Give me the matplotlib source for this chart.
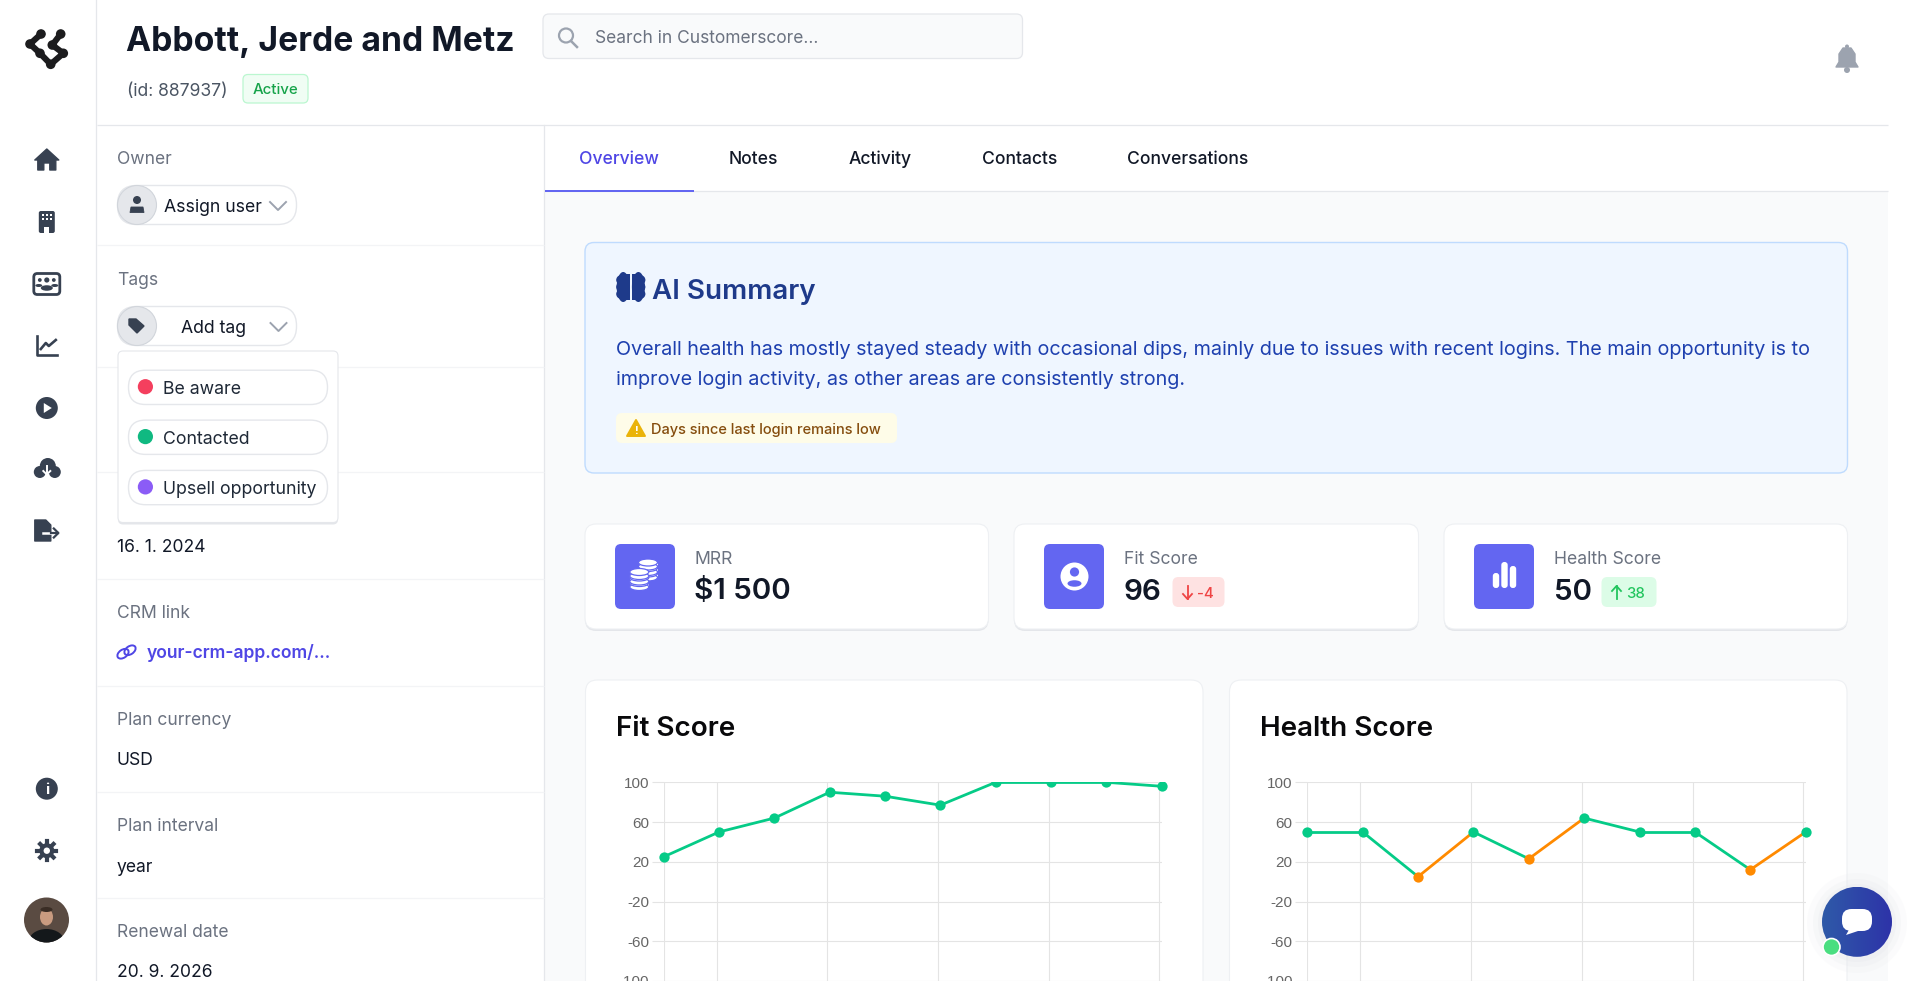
import numpy as np
import matplotlib
matplotlib.use('Agg')
import matplotlib.pyplot as plt
from matplotlib.patches import Circle, Ellipse, FancyBboxPatch, Polygon, Rectangle

W, H = 1911, 981

# chart data
fit_score = [25, 50, 64, 90, 86, 77, 100, 100, 100, 96]
health_score = [50, 50, 5, 50, 23, 64, 50, 50, 12, 50]
low_limit = 25
y_ticks = [100, 60, 20, -20, -60, -100]
month_ticks = [0, 0.955, 2.96, 4.96, 6.96, 8.96]

nav_top = ['home', 'building', 'users', 'chart', 'play', 'cloud', 'export']
tabs = ['Overview', 'Notes', 'Activity', 'Contacts', 'Conversations']
tag_names = ['Be aware', 'Contacted', 'Upsell opportunity']
tag_colors = ['#f43f5e', '#10b981', '#8b5cf6']
stat_labels = ['MRR', 'Fit Score', 'Health Score']
stat_values = ['$1 500', '96', '50']

GREEN = '#05cb87'
ORANGE = '#ff8a00'
INDIGO = '#6366f1'
ICON = '#374151'
LINE = '#e5e7eb'

plt.rcParams['font.family'] = ['Inter', 'DejaVu Sans']
plt.rcParams['axes.unicode_minus'] = False

fig = plt.figure(figsize=(W / 100, H / 100), dpi=100, facecolor='white')


def px_axes(z):
    a = fig.add_axes([0, 0, 1, 1], zorder=z)
    a.set_xlim(0, W)
    a.set_ylim(H, 0)
    a.axis('off')
    return a


ax = px_axes(0)
top = px_axes(3)


def box(x0, y0, x1, y1, r, fc, ec='none', lw=1, target=None, z=2):
    p = FancyBboxPatch((x0 + r, y0 + r), x1 - x0 - 2 * r, y1 - y0 - 2 * r,
                       boxstyle=f'round,pad={r},rounding_size={r}',
                       fc=fc, ec=ec, lw=lw, zorder=z)
    (target or ax).add_patch(p)


def card(x0, y0, x1, y1, r=12, target=None, z=2, ec='#eef0f3'):
    # soft shadow first, then the white face
    box(x0, y0 + 2, x1, y1 + 2, r, '#e4e6ea', target=target, z=z)
    box(x0, y0, x1, y1, r, 'white', ec=ec, lw=0.8, target=target, z=z + 0.1)


def txt(x, y, s, size, color='#111827', weight='normal', ha='left', z=5):
    return ax.text(x, y, s, fontsize=size * 0.72, color=color, weight=weight,
                   ha=ha, va='center_baseline', zorder=z)


def hline(y, x0, x1, c=LINE, lw=0.9):
    ax.plot([x0, x1], [y, y], color=c, lw=lw, zorder=1.5, solid_capstyle='butt')


def chevron(x, y):
    ax.plot([x - 8, x, x + 8], [y - 4, y + 4, y - 4], color='#9ca3af', lw=1.4, zorder=5)


def coin_stack(cx, y0, n):
    # n discs stacked downward from y0
    for k in range(n - 1, -1, -1):
        cy = y0 + k * 5.5
        ax.add_patch(Rectangle((cx - 9.5, cy), 19, 4, fc='white', zorder=5))
        ax.add_patch(Ellipse((cx, cy + 4), 19, 7, fc='white', ec=INDIGO, lw=0.9, zorder=5))
        ax.add_patch(Ellipse((cx, cy), 19, 7, fc='white', ec=INDIGO, lw=0.9, zorder=5))


def nav_icon(name, cx, cy):
    c = ICON
    if name == 'home':
        ax.add_patch(Polygon([(cx - 12, cy), (cx, cy - 11), (cx + 12, cy), (cx + 9, cy), (cx + 9, cy + 10),
                              (cx + 3, cy + 10), (cx + 3, cy + 3), (cx - 3, cy + 3), (cx - 3, cy + 10),
                              (cx - 9, cy + 10), (cx - 9, cy)], fc=c, ec=c, lw=1, joinstyle='round', zorder=5))
    elif name == 'building':
        box(cx - 8, cy - 11, cx + 8, cy + 11, 2, c, z=5)
        for i in (-4, 0, 4):
            for j in (-7, -3):
                ax.add_patch(Rectangle((cx + i - 1, cy + j - 1), 2, 2, fc='white', zorder=6))
        ax.add_patch(Rectangle((cx - 2.5, cy + 5), 5, 6, fc='white', zorder=6))
    elif name == 'users':
        box(cx - 13, cy - 10.5, cx + 13, cy + 10.5, 3.5, 'white', ec=c, lw=2, z=5)
        for dx, r in ((-7, 1.9), (0, 2.6), (7, 1.9)):
            ax.add_patch(Circle((cx + dx, cy - 4), r, fc=c, zorder=6))
        ax.add_patch(Ellipse((cx, cy + 4), 12, 5.5, fc=c, zorder=7))
        ax.add_patch(Ellipse((cx - 8, cy + 1.5), 7, 3, fc=c, zorder=6))
        ax.add_patch(Ellipse((cx + 8, cy + 1.5), 7, 3, fc=c, zorder=6))
    elif name == 'chart':
        ax.plot([cx - 10, cx - 10, cx + 10], [cy - 10, cy + 9, cy + 9], color=c, lw=1.9, zorder=5)
        ax.plot([cx - 6, cx - 1, cx + 2, cx + 9], [cy + 3, cy - 3, cy, cy - 6], color=c, lw=1.9, zorder=5)
    elif name == 'play':
        ax.add_patch(Circle((cx, cy), 11, fc=c, zorder=5))
        ax.add_patch(Polygon([(cx - 3, cy - 5), (cx + 5, cy), (cx - 3, cy + 5)], fc='white', zorder=6))
    elif name == 'cloud':
        for dx, dy, r in ((-7, 3, 6), (1, -3, 8), (8, 3, 6)):
            ax.add_patch(Circle((cx + dx, cy + dy), r, fc=c, zorder=5))
        ax.plot([cx, cx], [cy - 3, cy + 5], color='white', lw=1.4, zorder=6)
        ax.plot([cx - 3.5, cx, cx + 3.5], [cy + 2, cy + 5.5, cy + 2], color='white', lw=1.4, zorder=6)
    elif name == 'export':
        ax.add_patch(Polygon([(cx - 12, cy - 10), (cx - 1, cy - 10), (cx + 4, cy - 5), (cx + 4, cy + 11), (cx - 12, cy + 11)],
                             fc=c, ec=c, lw=1, joinstyle='round', zorder=5))
        ax.plot([cx - 4, cx + 5], [cy + 3, cy + 3], color='white', lw=1.8, zorder=6)
        ax.plot([cx + 4, cx + 11], [cy + 3, cy + 3], color=c, lw=1.6, zorder=7)
        ax.plot([cx + 7, cx + 11.5, cx + 7], [cy - 1.5, cy + 3, cy + 7.5], color=c, lw=1.6, zorder=7)


# page regions
ax.add_patch(Rectangle((545, 192), 1888 - 545, H - 192, fc='#f9fafb', zorder=1))
ax.plot([96, 96], [0, H], color=LINE, lw=0.9, zorder=1.5)
ax.plot([544, 544], [125, H], color=LINE, lw=0.9, zorder=1.5)
hline(124.5, 97, 1888)
hline(191, 545, 1888)
ax.add_patch(Rectangle((545, 190), 149, 2, fc=INDIGO, zorder=3))

# logo
logo = [(41, 34), (30, 44), (40, 53.3), (50.7, 64.3), (63.3, 53.3), (52.3, 45), (60.7, 34)]
xs, ys = zip(*logo)
ax.plot(xs, ys, color='#1c1c1e', lw=4.4, zorder=5, solid_joinstyle='round')
for p in logo:
    ax.add_patch(Circle(p, 4.8, fc='#1c1c1e', zorder=5))

# sidebar
for name, cy in zip(nav_top, [160, 222, 284, 346, 408, 469, 530]):
    nav_icon(name, 46.8, cy)
ax.add_patch(Circle((46.8, 788.7), 11, fc=ICON, zorder=5))
txt(46.8, 789, 'i', 15, 'white', 'bold', ha='center', z=6)
for ang in np.arange(0, 360, 45):
    a = np.radians(ang)
    ax.plot([46.8, 46.8 + 9.5 * np.cos(a)], [850.7, 850.7 + 9.5 * np.sin(a)], color=ICON, lw=3, zorder=5)
ax.add_patch(Circle((46.8, 850.7), 7.5, fc=ICON, zorder=5))
ax.add_patch(Circle((46.8, 850.7), 3.2, fc='white', zorder=6))
# avatar
av = Circle((46.5, 920), 22.5, fc='#5a4b42', zorder=5)
ax.add_patch(av)
shirt = Ellipse((46.5, 942), 36, 26, fc='#14181b', zorder=6)
ax.add_patch(shirt)
shirt.set_clip_path(av)
ax.add_patch(Ellipse((46.5, 917), 13, 17, fc='#c99b80', zorder=7))
ax.add_patch(Ellipse((46.5, 909.5), 12, 5, fc='#3a2d25', zorder=8))

# header
txt(126.5, 38, 'Abbott, Jerde and Metz', 33.7, '#111827', 'bold')
txt(127, 89.5, '(id: 887937)', 17.5, '#4b5563')
box(243, 74.5, 308, 103, 5, '#f0fdf4', ec='#bbf7d0', lw=0.9)
txt(275.5, 89, 'Active', 15, '#16a34a', 'medium', ha='center')
box(543, 14, 1022.5, 58.5, 6, '#f9fafb', ec=LINE, lw=0.9)
ax.add_patch(Circle((566, 35.5), 7, fc='none', ec='#9ca3af', lw=1.6, zorder=5))
ax.plot([571, 577], [41, 47], color='#9ca3af', lw=1.8, zorder=5)
txt(594.8, 36.7, 'Search in Customerscore...', 17.4, '#6b7280')
# bell
ax.add_patch(Polygon([(1836, 67), (1839, 62), (1839, 54), (1843, 48), (1851, 48), (1855, 54), (1855, 62), (1858, 67)],
                     fc='#9ca3af', ec='#9ca3af', lw=1, joinstyle='round', zorder=5))
ax.add_patch(Circle((1847, 46.5), 2, fc='#9ca3af', zorder=5))
ax.add_patch(Circle((1847, 70), 3, fc='#9ca3af', zorder=5))

# left panel
label_c = '#6b7280'
txt(116.8, 157.5, 'Owner', 17.5, label_c)
box(117.5, 185.5, 296.5, 224.5, 19, 'white', ec=LINE, lw=1)
ax.add_patch(Circle((137, 205), 19.5, fc='#e5e7eb', ec='#d1d5db', lw=0.8, zorder=3))
ax.add_patch(Circle((137, 200), 4, fc=ICON, zorder=5))
ax.add_patch(Polygon([(130, 212.5), (131, 207), (143, 207), (144, 212.5)], fc=ICON, ec=ICON, lw=0.6, zorder=5))
txt(164.5, 206, 'Assign user', 17.6)
chevron(278, 206)
hline(245, 97, 544, '#f3f4f6')

txt(116.8, 278.5, 'Tags', 17.5, label_c)
box(117.5, 306.5, 296.5, 345.5, 19, 'white', ec=LINE, lw=1)
ax.add_patch(Circle((137, 326), 19.5, fc='#e5e7eb', ec='#d1d5db', lw=0.8, zorder=3))
ax.add_patch(Polygon([(129, 319), (136, 319), (144, 326), (137, 333), (129, 325)], fc=ICON, ec=ICON, lw=1, zorder=5))
txt(181, 326.5, 'Add tag', 17.6)
chevron(278.5, 327)
hline(366.5, 97, 544, '#f3f4f6')
hline(472, 97, 544, '#f3f4f6')

card(118, 351, 338, 522.5, 5, z=6, ec=LINE)
for y0, name, col in zip([370.2, 420.1, 470.4], tag_names, tag_colors):
    box(128.5, y0, 327.5, y0 + 34.3, 17, 'white', ec=LINE, lw=1, z=7)
    ax.add_patch(Circle((145.4, y0 + 16.5), 7.6, fc=col, zorder=8))
    txt(163, y0 + 17.3, name, 17.7, '#1f2937', z=8)

txt(116.8, 546, '16. 1. 2024', 17.5)
hline(578.5, 97, 544, '#f3f4f6')
txt(116.8, 611.5, 'CRM link', 17.5, label_c)
for dx, ang in ((-3.5, -35), (3.5, -35)):
    ax.add_patch(Ellipse((126.5 + dx, 652 + (-dx * 0.5)), 12.5, 8, angle=ang, fc='none', ec='#4f46e5', lw=1.4, zorder=5))
txt(146.3, 651.5, 'your-crm-app.com/...', 17.5, '#4f46e5', 'semibold')
hline(685.5, 97, 544, '#f3f4f6')
txt(116.8, 718.5, 'Plan currency', 17.5, label_c)
txt(116.8, 758.5, 'USD', 17.5)
hline(791.5, 97, 544, '#f3f4f6')
txt(116.8, 824.5, 'Plan interval', 17.5, label_c)
txt(116.8, 865, 'year', 17.5)
hline(897.5, 97, 544, '#f3f4f6')
txt(116.8, 930.5, 'Renewal date', 17.5, label_c)
txt(116.8, 970.7, '20. 9. 2026', 17.5)

# tabs
for x, name in zip([579.5, 729, 848.5, 982, 1127.5], tabs):
    txt(x, 157.7, name, 17.5, '#4f46e5' if name == 'Overview' else '#111827', 'medium')

# AI summary
box(585, 242.5, 1847.5, 473, 9, '#eff6ff', ec='#bfdbfe', lw=1)
for sgn in (-1, 1):
    cx = 630.8 + sgn * 7.6
    ax.add_patch(Ellipse((cx, 287), 13, 30, fc='#1e3a8a', zorder=5))
    ax.add_patch(Rectangle((630.8 + (1 if sgn > 0 else -7), 274), 6, 26, fc='#1e3a8a', zorder=5))
    for dy in (-7, 0, 7):
        ax.add_patch(Circle((cx + sgn * 2.2, 287 + dy), 4.8, fc='#1e3a8a', zorder=5))
txt(652.5, 289, 'AI Summary', 27.8, '#1e3a8a', 'semibold')
txt(616, 348, 'Overall health has mostly stayed steady with occasional dips, mainly due to issues with recent logins. The main opportunity is to',
    19.78, '#1e40af')
txt(616, 378.3, 'improve login activity, as other areas are consistently strong.', 19.78, '#1e40af')
box(616, 413, 897, 443, 6, '#fefce8')
ax.add_patch(Polygon([(636, 420), (645, 436), (627, 436)], fc='#eab308', ec='#eab308', lw=1.4, joinstyle='round', zorder=5))
txt(636, 429.5, '!', 11, 'white', 'bold', ha='center', z=6)
txt(651, 428.5, 'Days since last login remains low', 14.6, '#854d0e', 'medium')

# stat cards
for x0, x1, label, val in zip([585, 1014, 1444], [988.5, 1418.5, 1847.5], stat_labels, stat_values):
    card(x0, 524, x1, 629, 11)
    box(x0 + 30, 544, x0 + 90, 609, 6, INDIGO, z=4)
    txt(x0 + 109.5, 557.2, label, 17.6, '#6b7280')
    txt(x0 + 109.5, 589, val, 29.6, '#111827', 'semibold')

# coin stack
coin_stack(648, 562.5, 3)
coin_stack(639.3, 572, 3)
# person badge
ax.add_patch(Circle((1074.5, 576.5), 14, fc='white', zorder=5))
ax.add_patch(Circle((1074.5, 572), 4.6, fc=INDIGO, zorder=6))
ax.add_patch(Ellipse((1074.5, 583.5), 14, 6.5, fc=INDIGO, zorder=6))
# bars
for cx, y0 in zip([1496, 1504.5, 1513], [573, 562, 566]):
    box(cx - 3.2, y0, cx + 3.2, 588, 3, 'white', z=5)

box(1172.5, 577, 1224.5, 607, 6, '#fee2e2', z=4)
ax.plot([1187.5, 1187.5], [586, 599], color='#ef4444', lw=1.3, zorder=5)
ax.plot([1183, 1187.5, 1192], [594, 599, 594], color='#ef4444', lw=1.3, zorder=5)
txt(1197, 592, '-4', 15, '#ef4444', 'medium')
box(1601.5, 577, 1656.5, 607, 6, '#dcfce7', z=4)
ax.plot([1616.5, 1616.5], [586, 599], color='#22c55e', lw=1.3, zorder=5)
ax.plot([1612, 1616.5, 1621], [591, 586, 591], color='#22c55e', lw=1.3, zorder=5)
txt(1626, 592, '38', 15, '#22c55e', 'medium')

# chart cards
card(585.5, 680, 1203, H + 40, 12)
card(1229.5, 680, 1847, H + 40, 12)
txt(616, 726, 'Fit Score', 27.8, '#09090b', 'semibold')
txt(1260, 726, 'Health Score', 27.8, '#09090b', 'semibold')


def score_chart(x0, x1, values):
    a = fig.add_axes([x0 / W, 0, (x1 - x0) / W, (H - 782.3) / H], zorder=1)
    a.patch.set_alpha(0)
    a.set_xlim(0, 9)
    a.set_ylim(-100, 100)
    a.set_yticks(y_ticks)
    a.set_xticks(month_ticks)
    a.set_xticklabels([])
    a.grid(True, color='#e4e4e4', lw=0.8)
    a.set_axisbelow(True)
    a.tick_params(axis='y', length=8.6, width=0.8, color='#e4e4e4', labelcolor='#666666',
                  labelsize=11, pad=2, labelfontfamily='Liberation Sans')
    a.tick_params(axis='x', length=0)
    for sp in a.spines.values():
        sp.set_visible(False)
    clip = Rectangle((-0.3, -100), 9.6, 200, transform=a.transData)
    pts = list(range(len(values)))
    # each stretch takes the colour of the point it starts from
    cols = [ORANGE if v < low_limit else GREEN for v in values]
    for i in pts[:-1]:
        ln, = a.plot(pts[i:i + 2], values[i:i + 2], color=cols[i], lw=2.0, zorder=3, solid_capstyle='round')
        ln.set_clip_path(clip)
    for i in pts:
        ln, = a.plot(pts[i], values[i], 'o', color=cols[i], ms=7.4, mew=0, zorder=4)
        ln.set_clip_path(clip)
    return a


score_chart(663.7, 1161.6, fit_score)
score_chart(1307.3, 1805.7, health_score)

# chat widget
for r, al in ((50, 0.12), (44, 0.18), (39, 0.25)):
    top.add_patch(Circle((1857, 923), r, fc='#e3e5ea', alpha=al, zorder=1))
im = top.imshow(np.linspace(0, 1, 80).reshape(1, -1), extent=(1822, 1892, 957, 887), aspect='auto', zorder=2,
                cmap=matplotlib.colors.LinearSegmentedColormap.from_list('chat', ['#2f5aa8', '#2d33a8']))
im.set_clip_path(Circle((1857, 921.8), 35, transform=top.transData))
top.set_xlim(0, W)
top.set_ylim(H, 0)
box(1842, 909, 1872, 931, 9.5, 'white', target=top, z=3)
top.add_patch(Polygon([(1850, 928), (1858, 931), (1846, 935)], fc='white', zorder=3))
top.add_patch(Circle((1831.5, 947), 8.5, fc='#4ade80', ec='white', lw=1.2, zorder=4))

fig.savefig('out.png', dpi=100)
